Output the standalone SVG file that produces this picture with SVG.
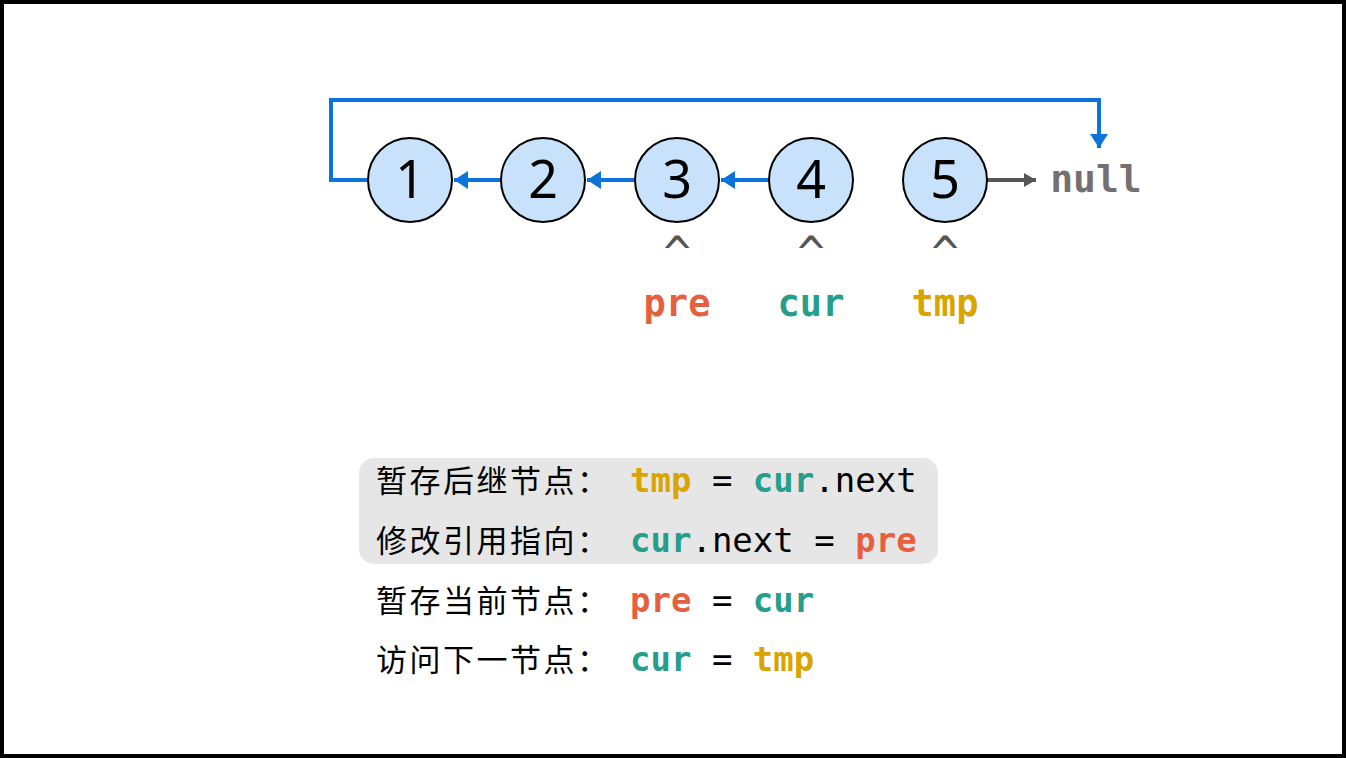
<svg xmlns="http://www.w3.org/2000/svg" width="1346" height="758" viewBox="0 0 1346 758">
<style>
.node circle{fill:#C7E2FA;stroke:#000;stroke-width:2}
.node text{font-family:"Noto Sans","DejaVu Sans",sans-serif;font-size:52px;fill:#000;text-anchor:middle}
.blue{stroke:#0A74DA;stroke-width:4;fill:none}
.gray{stroke:#555;stroke-width:4;fill:none}
.mono{font-family:"DejaVu Sans Mono","Liberation Mono",monospace}
.b{font-weight:bold}
.cn{font-family:"Noto Sans CJK SC","Noto Sans",sans-serif;font-size:31px;letter-spacing:2.5px;fill:#000}
.code{font-family:"DejaVu Sans Mono","Liberation Mono",monospace;font-size:34px;fill:#000}
.pre{fill:#E65F3E}
.cur{fill:#279E8C}
.tmp{fill:#D9A300}
.caret{font-family:"DejaVu Sans Mono",monospace;font-size:46px;fill:#555;text-anchor:middle}
.ptr{font-family:"DejaVu Sans Mono","Liberation Mono",monospace;font-size:37px;font-weight:bold;text-anchor:middle}
</style>
<defs>
<marker id="ab" viewBox="0 0 14 18" refX="14" refY="9" markerWidth="3.5" markerHeight="4.5" orient="auto" markerUnits="strokeWidth">
<path d="M0,0 L14,9 L0,18 z" fill="#0A74DA"/>
</marker>
<marker id="ag" viewBox="0 0 12 14" refX="12" refY="7" markerWidth="3" markerHeight="3.5" orient="auto" markerUnits="strokeWidth">
<path d="M0,0 L12,7 L0,14 z" fill="#555"/>
</marker>
</defs>
<rect x="2" y="2" width="1342" height="754" fill="#fff" stroke="#000" stroke-width="4"/>
<g id="connectors">
<path class="blue" d="M368,180 H331 V100 H1099 V148" marker-end="url(#ab)"/>
<line class="blue" x1="501" y1="180" x2="454" y2="180" marker-end="url(#ab)"/>
<line class="blue" x1="635" y1="180" x2="587" y2="180" marker-end="url(#ab)"/>
<line class="blue" x1="769" y1="180" x2="721" y2="180" marker-end="url(#ab)"/>
<line class="gray" x1="987" y1="180" x2="1036" y2="180" marker-end="url(#ag)"/>
</g>
<g id="n1" class="node"><circle cx="410" cy="180" r="42"/><text x="410" y="198">1</text></g>
<g id="n2" class="node"><circle cx="543" cy="180" r="42"/><text x="543" y="198">2</text></g>
<g id="n3" class="node"><circle cx="677" cy="180" r="42"/><text x="677" y="198">3</text></g>
<g id="n4" class="node"><circle cx="811" cy="180" r="42"/><text x="811" y="198">4</text></g>
<g id="n5" class="node"><circle cx="945" cy="180" r="42"/><text x="945" y="198">5</text></g>
<g id="null"><text x="1096" y="192" class="mono b" font-size="38" fill="#747070" text-anchor="middle">null</text></g>
<g id="pointers">
<text class="caret" x="677" y="269">^</text>
<text class="caret" x="811" y="269">^</text>
<text class="caret" x="945" y="269">^</text>
<text class="ptr pre" x="677" y="316">pre</text>
<text class="ptr cur" x="811" y="316">cur</text>
<text class="ptr tmp" x="945" y="316">tmp</text>
</g>
<g id="code">
<rect x="359" y="458" width="579" height="106" rx="15" fill="#E6E6E6"/>
<text class="cn" x="376" y="492">暂存后继节点：</text>
<text class="code" x="630" y="492" xml:space="preserve"><tspan class="tmp b">tmp</tspan> = <tspan class="cur b">cur</tspan>.next</text>
<text class="cn" x="376" y="552">修改引用指向：</text>
<text class="code" x="630" y="552" xml:space="preserve"><tspan class="cur b">cur</tspan>.next = <tspan class="pre b">pre</tspan></text>
<text class="cn" x="376" y="612">暂存当前节点：</text>
<text class="code" x="630" y="612" xml:space="preserve"><tspan class="pre b">pre</tspan> = <tspan class="cur b">cur</tspan></text>
<text class="cn" x="376" y="671">访问下一节点：</text>
<text class="code" x="630" y="671" xml:space="preserve"><tspan class="cur b">cur</tspan> = <tspan class="tmp b">tmp</tspan></text>
</g>
</svg>
